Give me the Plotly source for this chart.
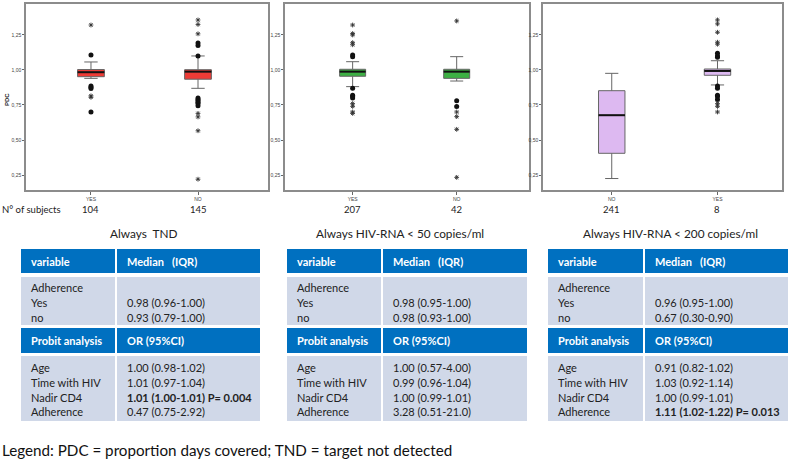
import plotly.graph_objects as go

W, H = 790, 459

# ---------------- data ----------------
panel_titles = ["Always  TND", "Always HIV-RNA < 50 copies/ml", "Always HIV-RNA < 200 copies/ml"]
categories = [["YES", "NO"], ["YES", "NO"], ["NO", "YES"]]
n_subjects = [[104, 145], [207, 42], [241, 8]]
q1 = [[0.952, 0.934], [0.955, 0.940], [0.405, 0.962]]
median = [[0.984, 0.988], [0.988, 0.988], [0.677, 0.993]]
q3 = [[1.003, 1.002], [1.005, 1.005], [0.852, 1.007]]
lower_whisker = [[0.940, 0.869], [0.881, 0.921], [0.225, 0.893]]
upper_whisker = [[1.057, 1.100], [1.059, 1.095], [0.976, 1.066]]
outlier_circles = [
    [[1.107, 0.885, 0.876, 0.868, 0.700],
     [1.100, 1.192, 1.175, 0.800, 0.790, 0.780, 0.770, 0.760, 0.745]],
    [[1.107, 1.095, 0.870, 0.820, 0.810, 0.800], [0.780, 0.740]],
    [[], [1.120, 1.100, 1.090, 0.886, 0.870, 0.820, 0.810, 0.790]],
]
outlier_stars = [
    [[1.321, 0.815, 0.805], [1.357, 1.325, 1.258, 0.690, 0.665, 0.566, 0.220]],
    [[1.321, 1.260, 1.250, 1.195, 1.180, 0.760, 0.740, 0.700, 0.690],
     [1.350, 0.700, 0.667, 0.576, 0.233]],
    [[], [1.357, 1.329, 1.269, 1.198, 1.184, 0.760, 0.740, 0.700]],
]
box_colors = ["#EE3B36", "#3CB043", "#DDB9F1"]
y_ticks = [0.25, 0.50, 0.75, 1.00, 1.25]

header1 = ["variable", "Median   (IQR)"]
header2 = ["Probit analysis", "OR (95%CI)"]
median_labels = ["Adherence", "Yes", "no"]
median_values = [
    ["", "0.98 (0.96-1.00)", "0.93 (0.79-1.00)"],
    ["", "0.98 (0.95-1.00)", "0.98 (0.93-1.00)"],
    ["", "0.96 (0.95-1.00)", "0.67 (0.30-0.90)"],
]
probit_labels = ["Age", "Time with HIV", "Nadir CD4", "Adherence"]
probit_values = [
    ["1.00 (0.98-1.02)", "1.01 (0.97-1.04)", "1.01 (1.00-1.01) P= 0.004", "0.47 (0.75-2.92)"],
    ["1.00 (0.57-4.00)", "0.99 (0.96-1.04)", "1.00 (0.99-1.01)", "3.28 (0.51-21.0)"],
    ["0.91 (0.82-1.02)", "1.03 (0.92-1.14)", "1.00 (0.99-1.01)", "1.11 (1.02-1.22) P= 0.013"],
]
probit_bold = [[False, False, True, False], [False, False, False, False], [False, False, False, True]]
legend_text = "Legend: PDC = proportion days covered; TND = target not detected"

# ---------------- layout constants ----------------
FONT = "Lato"
TABLE_FS = 11
panel_px = [(26, 268), (285, 529), (543, 782)]
x_ranges = [(-0.607, 1.654), (-0.65, 1.695), (-0.65, 1.61)]
plot_top, plot_bot = 4, 190
y_range = (0.143, 1.471)
title_px = [143, 400, 670]
box_w = 0.25

tables_px = [(21, 116, 260), (287, 382, 527), (548, 644, 788)]
row_h1 = (249, 273)
row_b1 = (277, 325)
row_h2 = (328, 353)
row_b2 = (356, 421)
b1_lines = [287.3, 302.3, 317.3]
b2_lines = [367.3, 382.3, 397.0, 411.5]
HEAD_BLUE = "#0070C0"
BODY_FILL = "#D0D8E8"


def px(x):
    return x / W


def py(y):
    return 1 - y / H


fig = go.Figure()
annotations = []
shapes = []

for i in range(3):
    ax = "" if i == 0 else str(i + 1)
    xa, ya = "x" + ax, "y" + ax
    positions = list(range(len(categories[i])))
    for j, pos in enumerate(positions):
        fig.add_trace(go.Box(
            x=[pos], q1=[q1[i][j]], median=[median[i][j]], q3=[q3[i][j]],
            lowerfence=[lower_whisker[i][j]], upperfence=[upper_whisker[i][j]],
            width=box_w, whiskerwidth=0.5, boxpoints=False,
            fillcolor=box_colors[i], line=dict(color="#666666", width=1),
            xaxis=xa, yaxis=ya, showlegend=False, hoverinfo="skip"))
        fig.add_trace(go.Scatter(
            x=[pos - box_w / 2, pos + box_w / 2], y=[median[i][j]] * 2,
            mode="lines", line=dict(color="#111111", width=2),
            xaxis=xa, yaxis=ya, showlegend=False, hoverinfo="skip"))
        if outlier_circles[i][j]:
            fig.add_trace(go.Scatter(
                x=[pos] * len(outlier_circles[i][j]), y=outlier_circles[i][j],
                mode="markers", marker=dict(symbol="circle", size=5, color="#111111"),
                xaxis=xa, yaxis=ya, showlegend=False, hoverinfo="skip"))
        if outlier_stars[i][j]:
            fig.add_trace(go.Scatter(
                x=[pos] * len(outlier_stars[i][j]), y=outlier_stars[i][j],
                mode="markers",
                marker=dict(symbol="asterisk-open", size=4, color="#333333",
                            line=dict(color="#333333", width=0.9)),
                xaxis=xa, yaxis=ya, showlegend=False, hoverinfo="skip"))
        annotations.append(dict(
            x=pos, xref=xa, y=py(210), yref="paper", text=str(n_subjects[i][j]),
            showarrow=False, font=dict(family=FONT, size=9.5, color="#222222"),
            xanchor="center", yanchor="middle"))

    x0, x1 = panel_px[i]
    fig.update_layout(**{
        "xaxis" + ax: dict(
            domain=[px(x0), px(x1)], range=list(x_ranges[i]),
            tickvals=positions, ticktext=categories[i],
            tickfont=dict(family="Liberation Sans", size=5, color="#444444"),
            ticks="outside", ticklen=3, tickcolor="#666666",
            showgrid=False, zeroline=False, showline=True, mirror=True,
            linecolor="#8c8c8c", linewidth=1.5, anchor=ya, fixedrange=True),
        "yaxis" + ax: dict(
            domain=[py(plot_bot), py(plot_top)], range=list(y_range),
            tickvals=y_ticks, tickformat=".2f",
            tickfont=dict(family="Liberation Sans", size=5, color="#444444"),
            ticks="outside", ticklen=2, tickcolor="#666666",
            showgrid=False, zeroline=False, showline=True, mirror=True,
            linecolor="#8c8c8c", linewidth=1.5, anchor=xa, fixedrange=True),
    })
    annotations.append(dict(
        x=px(title_px[i]), xref="paper", y=py(233), yref="paper", text=panel_titles[i],
        showarrow=False, font=dict(family=FONT, size=11.8, color="#222222"),
        xanchor="center", yanchor="middle"))

    # ---- table ----
    tx0, tsp, tx1 = tables_px[i]
    gap = 1
    for (ya0, ya1), fill in [(row_h1, HEAD_BLUE), (row_b1, BODY_FILL),
                             (row_h2, HEAD_BLUE), (row_b2, BODY_FILL)]:
        shapes.append(dict(type="rect", xref="paper", yref="paper",
                           x0=px(tx0), x1=px(tsp - gap), y0=py(ya1), y1=py(ya0),
                           fillcolor=fill, line=dict(width=0), layer="above"))
        shapes.append(dict(type="rect", xref="paper", yref="paper",
                           x0=px(tsp + gap), x1=px(tx1), y0=py(ya1), y1=py(ya0),
                           fillcolor=fill, line=dict(width=0), layer="above"))
    pad = 8
    for k, (hdr, rows) in enumerate([(header1, row_h1), (header2, row_h2)]):
        yc = (rows[0] + rows[1]) / 2
        for c, xl in enumerate([tx0 + pad, tsp + gap + pad]):
            annotations.append(dict(
                x=px(xl), xref="paper", y=py(yc), yref="paper", text="<b>" + hdr[c] + "</b>",
                showarrow=False, font=dict(family=FONT, size=TABLE_FS, color="white"),
                xanchor="left", yanchor="middle"))
    for r, yc in enumerate(b1_lines):
        annotations.append(dict(
            x=px(tx0 + pad), xref="paper", y=py(yc), yref="paper", text=median_labels[r],
            showarrow=False, font=dict(family=FONT, size=TABLE_FS, color="#222222"),
            xanchor="left", yanchor="middle"))
        if median_values[i][r]:
            annotations.append(dict(
                x=px(tsp + gap + pad), xref="paper", y=py(yc), yref="paper",
                text=median_values[i][r],
                showarrow=False, font=dict(family=FONT, size=TABLE_FS, color="#222222"),
                xanchor="left", yanchor="middle"))
    for r, yc in enumerate(b2_lines):
        annotations.append(dict(
            x=px(tx0 + pad), xref="paper", y=py(yc), yref="paper", text=probit_labels[r],
            showarrow=False, font=dict(family=FONT, size=TABLE_FS, color="#222222"),
            xanchor="left", yanchor="middle"))
        val = probit_values[i][r]
        if probit_bold[i][r]:
            val = "<b>" + val + "</b>"
        annotations.append(dict(
            x=px(tsp + gap + pad), xref="paper", y=py(yc), yref="paper", text=val,
            showarrow=False, font=dict(family=FONT, size=TABLE_FS, color="#222222"),
            xanchor="left", yanchor="middle"))

# PDC axis label
annotations.append(dict(
    x=px(7), xref="paper", y=py(100), yref="paper", text="<b>PDC</b>", textangle=-90,
    showarrow=False, font=dict(family="Liberation Sans", size=6, color="#222222"),
    xanchor="center", yanchor="middle"))
annotations.append(dict(
    x=px(0), xref="paper", y=py(210), yref="paper", text="N° of subjects",
    showarrow=False, font=dict(family=FONT, size=9.5, color="#222222"),
    xanchor="left", yanchor="middle"))
annotations.append(dict(
    x=px(0), xref="paper", y=py(450), yref="paper", text=legend_text,
    showarrow=False, font=dict(family=FONT, size=15.2, color="#111111"),
    xanchor="left", yanchor="middle"))

fig.update_layout(
    width=W, height=H, margin=dict(l=0, r=0, t=0, b=0),
    paper_bgcolor="white", plot_bgcolor="white",
    separators=",.", showlegend=False,
    annotations=annotations, shapes=shapes,
)

fig.write_html("out.html", config={"displayModeBar": False})
